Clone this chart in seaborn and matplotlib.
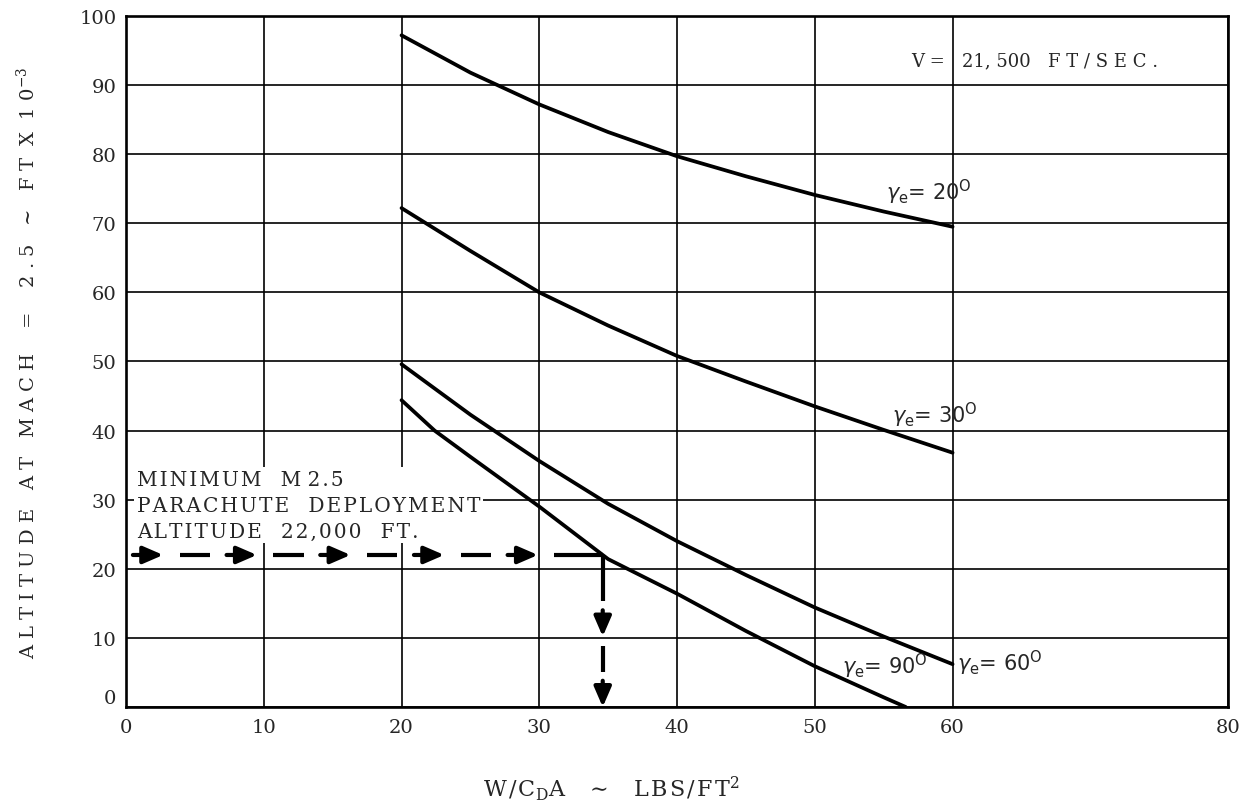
import numpy as np
import pandas as pd
import matplotlib
matplotlib.use("Agg")
import matplotlib.pyplot as plt
import seaborn as sns

# ---- data ----
x_vals = [20, 25, 30, 35, 40, 45, 50, 55, 60]
alt_g20 = [97.2, 91.8, 87.2, 83.2, 79.7, 76.8, 74.1, 71.7, 69.5]
alt_g30 = [72.2, 66.0, 60.0, 55.2, 50.8, 47.1, 43.5, 40.1, 36.8]
alt_g60 = [49.6, 42.3, 35.6, 29.4, 24.0, 19.1, 14.4, 10.2, 6.2]
x_g90 = [20, 22.4, 25, 30, 35, 40, 45, 50, 55, 56.6]
alt_g90 = [44.4, 40.0, 36.2, 29.0, 21.4, 16.4, 11.0, 5.9, 1.4, 0.0]
series_names = ["20", "30", "60", "90"]
deploy_alt = 22.0
x_ticks = [0, 10, 20, 30, 40, 50, 60, 80]
y_ticks = [0, 10, 20, 30, 40, 50, 60, 70, 80, 90, 100]

df = pd.concat([
    pd.DataFrame({"x": x_vals, "alt": alt_g20, "series": "20"}),
    pd.DataFrame({"x": x_vals, "alt": alt_g30, "series": "30"}),
    pd.DataFrame({"x": x_vals, "alt": alt_g60, "series": "60"}),
    pd.DataFrame({"x": x_g90, "alt": alt_g90, "series": "90"}),
], ignore_index=True)

HS = "\u200a"  # hair space for letter spacing


def spaced(text, sep=HS, gap="   "):
    words = text.split(" ")
    return gap.join(sep.join(w) for w in words)


sns.set_style("white")
plt.rcParams["font.family"] = ["DejaVu Serif"]
plt.rcParams["mathtext.fontset"] = "dejavuserif"

fig = plt.figure(figsize=(12.44, 8.04), dpi=100)
ax = fig.add_axes([0.1013, 0.1194, 0.8859, 0.8595])

sns.lineplot(data=df, x="x", y="alt", hue="series", units="series",
             estimator=None, palette=["black"] * 4, legend=False,
             linewidth=2.7, ax=ax, zorder=5, sort=False)

ax.set_xlim(0, 80)
ax.set_ylim(0, 100)
ax.set_xticks(x_ticks)
ax.set_yticks(y_ticks)
ax.grid(True, which="major", color="black", linewidth=1.2, zorder=1)
ax.set_axisbelow(True)
ax.tick_params(axis="both", length=0, labelsize=14)
ax.tick_params(axis="y", pad=7)
ax.tick_params(axis="x", pad=8)
ax.get_yticklabels()[0].set_va("bottom")
for s in ax.spines.values():
    s.set_color("black")
    s.set_linewidth(1.9)
ax.set_xlabel("")
ax.set_ylabel("")

# axis titles
ax.text(35.2, -11.6,
        HS.join("W/C") + r"$_\mathrm{D}$" + "A" + r"   $\sim$   " + HS.join("LBS/FT") + r"$^2$",
        ha="center", va="center", fontsize=16)
ax.text(-7.2, 50, "A L T I T U D E   A T   M A C H    =    2 . 5   ~   F T  X  1 0$^{-3}$",
        rotation=90, ha="center", va="center", fontsize=14)

# header
ax.text(57.0, 93.6, "V =   21, 500   F T / S E C .", ha="left", va="center", fontsize=13)

# curve labels
lab_kw = dict(fontfamily="DejaVu Sans", math_fontfamily="dejavusans",
              fontsize=15, ha="left", va="center", zorder=6)
ax.text(55.2, 74.6, r"$\gamma_{\mathrm{e}}$= 20$^{\mathrm{O}}$", **lab_kw)
ax.text(55.6, 42.4, r"$\gamma_{\mathrm{e}}$= 30$^{\mathrm{O}}$", **lab_kw)
ax.text(60.3, 6.4, r"$\gamma_{\mathrm{e}}$= 60$^{\mathrm{O}}$", **lab_kw)
ax.text(52.0, 6.0, r"$\gamma_{\mathrm{e}}$= 90$^{\mathrm{O}}$", **lab_kw)

# annotation block
block = "\n".join([spaced("MINIMUM") + "   M " + spaced("2.5"),
                   spaced("PARACHUTE DEPLOYMENT"),
                   spaced("ALTITUDE 22,000 FT.")])
ax.text(0.8, 29.2, block,
        ha="left", va="center", fontsize=14.5, linespacing=1.45, zorder=4,
        bbox=dict(facecolor="white", edgecolor="none", pad=2))

# dashed arrow path
x_int = float(np.interp(deploy_alt, alt_g90[::-1], x_g90[::-1]))
seg, gap = 2.2, 1.2
arrow_kw = dict(arrowstyle="-|>,head_length=0.6,head_width=0.26", color="black",
                lw=3.0, shrinkA=0, shrinkB=0, mutation_scale=20)
starts = np.arange(0.5, x_int - seg, seg + gap)
for i, s0 in enumerate(starts):
    if i % 2 == 0:
        ax.annotate("", xy=(s0 + seg, deploy_alt), xytext=(s0, deploy_alt),
                    arrowprops=arrow_kw, zorder=6)
    else:
        e0 = x_int if i == len(starts) - 1 else s0 + seg
        ax.plot([s0, e0], [deploy_alt, deploy_alt], color="black", lw=3.0,
                solid_capstyle="butt", zorder=6)
vseg, vgap = 3.8, 1.3
vstarts = np.arange(0.0, deploy_alt - vseg, vseg + vgap)
for i, y0 in enumerate(vstarts):
    if i % 2 == 0:
        ax.annotate("", xy=(x_int, y0), xytext=(x_int, y0 + vseg),
                    arrowprops=arrow_kw, zorder=6)
    else:
        y1 = deploy_alt if i == len(vstarts) - 1 else y0 + vseg
        ax.plot([x_int, x_int], [y0, y1], color="black", lw=3.0,
                solid_capstyle="butt", zorder=6)

fig.savefig("out.png", dpi=100, facecolor="white")
